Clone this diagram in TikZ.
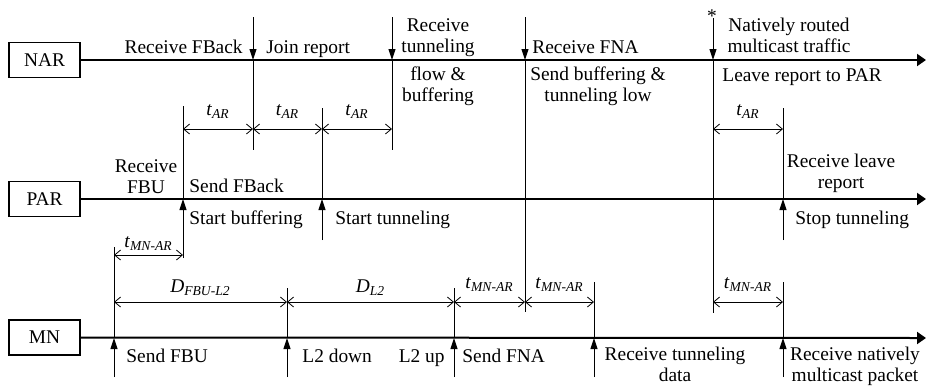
\documentclass[tikz,border=0pt]{standalone}
\usepackage{fontspec}
\setmainfont{Liberation Serif}
\usetikzlibrary{arrows.meta}
\newcommand{\dimlab}[2]{\textit{#1}\textsubscript{\textit{#2}}}

\begin{document}
\begin{tikzpicture}[x=0.5pt,y=-0.5pt,
	every node/.style={font=\fontsize{9.7}{10.5}\selectfont},
	actor/.style={draw, line width=0.9pt, minimum width=35.5pt, minimum height=17.5pt, inner sep=0pt},
	tline/.style={line width=1pt, -{Triangle[length=4.5pt,width=6pt]}},
	evt/.style={line width=0.5pt, -{Triangle[length=5.5pt,width=3.5pt]}},
	vline/.style={line width=0.5pt},
	dim/.style={line width=0.4pt, <->, >={Straight Barb[length=3pt,width=5pt]}},
	dlab/.style={above, inner sep=0pt, yshift=5pt},
	lab/.style={inner sep=0pt, align=center}]
	\useasboundingbox (0,0) rectangle (927,387);
	% time lines
	\node[actor] (NAR) at (44.5,60) {NAR};
	\node[actor] (PAR) at (44.5,199) {PAR};
	\node[actor] (MN) at (44.5,337.5) {MN};
	\coordinate (nEnd) at (926,60);
	\coordinate (pEnd) at (926,199);
	\coordinate (mEnd) at (926,338);
	\draw[tline] (NAR) -- (nEnd);
	\draw[tline] (PAR) -- (pEnd);
	\draw[tline] (MN) -- (mEnd);

	% events at NAR
	\coordinate (nFBack) at (253,60);
	\coordinate (nTun) at (392,60);
	\coordinate (nFNA) at (525,60);
	\coordinate (nNat) at (713,60);
	\draw[evt] (nFBack) ++(0,-43) -- (nFBack);
	\draw[vline] (nFBack) -- ++(0,90);
	\draw[evt] (nTun) ++(0,-43) -- (nTun);
	\draw[vline] (nTun) -- ++(0,90);
	\draw[evt] (nFNA) ++(0,-43) -- (nFNA);
	\draw[vline] (nFNA) -- ++(0,252);
	\draw[evt] (nNat) ++(0,-42) -- (nNat);
	\draw[vline] (nNat) -- ++(0,253);

	% events at PAR
	\coordinate (pFBU) at (183,199);
	\coordinate (pTun) at (322,199);
	\coordinate (pLeave) at (783,199);
	\draw[evt] (pFBU) ++(0,59) -- (pFBU);
	\draw[vline] (pFBU) -- ++(0,-93);
	\draw[evt] (pTun) ++(0,41) -- (pTun);
	\draw[vline] (pTun) -- ++(0,-91);
	\draw[evt] (pLeave) ++(0,41) -- (pLeave);
	\draw[vline] (pLeave) -- ++(0,-91);

	% events at MN
	\coordinate (mFBU) at (114,338);
	\coordinate (mDown) at (287,338);
	\coordinate (mUp) at (454,338);
	\coordinate (mData) at (594,338);
	\coordinate (mPkt) at (783,338);
	\draw[evt] (mFBU) ++(0,39) -- (mFBU);
	\draw[vline] (mFBU) -- ++(0,-91);
	\draw[evt] (mDown) ++(0,39) -- (mDown);
	\draw[vline] (mDown) -- ++(0,-50);
	\draw[evt] (mUp) ++(0,39) -- (mUp);
	\draw[vline] (mUp) -- ++(0,-50);
	\draw[evt] (mData) ++(0,39) -- (mData);
	\draw[vline] (mData) -- ++(0,-56);
	\draw[evt] (mPkt) ++(0,39) -- (mPkt);
	\draw[vline] (mPkt) -- ++(0,-56);

	% delays
	\coordinate (dA) at (0,129);
	\coordinate (dB) at (0,255);
	\coordinate (dC) at (0,302);
	\draw[dim] (pFBU |- dA) -- node[dlab] {\dimlab{t}{AR}} (nFBack |- dA);
	\draw[dim] (nFBack |- dA) -- node[dlab] {\dimlab{t}{AR}} (pTun |- dA);
	\draw[dim] (pTun |- dA) -- node[dlab] {\dimlab{t}{AR}} (nTun |- dA);
	\draw[dim] (nNat |- dA) -- node[dlab] {\dimlab{t}{AR}} (pLeave |- dA);
	\draw[dim] (mFBU |- dB) -- node[dlab, yshift=-3pt] {\dimlab{t}{MN-AR}} (pFBU |- dB);
	\draw[dim] (mFBU |- dC) -- node[dlab, yshift=-2pt] {\dimlab{D}{FBU-L2}} (mDown |- dC);
	\draw[dim] (mDown |- dC) -- node[dlab, yshift=-2pt] {\dimlab{D}{L2}} (mUp |- dC);
	\draw[dim] (mUp |- dC) -- node[dlab] {\dimlab{t}{MN-AR}} (nFNA |- dC);
	\draw[dim] (nFNA |- dC) -- node[dlab] {\dimlab{t}{MN-AR}} (mData |- dC);
	\draw[dim] (nNat |- dC) -- node[dlab] {\dimlab{t}{MN-AR}} (mPkt |- dC);

	% NAR labels
	\node[lab, anchor=base east] (rfback) at (243,53) {Receive FBack};
	\node[lab, anchor=base west] (join) at (266,53) {Join report};
	\node[lab, anchor=south] (rtun) at (438,57) {Receive\\tunneling};
	\node[lab, anchor=north] (flow) at (438,66) {flow \&\\buffering};
	\node[lab, anchor=base west] (rfna) at (532,53) {Receive FNA};
	\node[lab, anchor=north] (sbuf) at (598,66) {Send buffering \&\\tunneling low};
	\node[lab, anchor=base] (star) at (712,22) {*};
	\node[lab, anchor=south] (natv) at (789,53) {Natively routed\\multicast traffic};
	\node[lab, anchor=north west] (leave) at (722,68) {Leave report to PAR};

	% PAR labels
	\node[lab, anchor=south] (rfbu) at (146,194) {Receive\\FBU};
	\node[lab, anchor=base west] (sfback) at (189,192) {Send FBack};
	\node[lab, anchor=north west] (sbuffer) at (189,210) {Start buffering};
	\node[lab, anchor=north west] (stun) at (335,211) {Start tunneling};
	\node[lab, anchor=south] (rleave) at (841,193) {Receive leave\\report};
	\node[lab, anchor=north west] (stop) at (795,211) {Stop tunneling};

	% MN labels
	\node[lab, anchor=north west] (sfbu) at (126,349) {Send FBU};
	\node[lab, anchor=north west] (down) at (302,349) {L2 down};
	\node[lab, anchor=north east] (up) at (445,349) {L2 up};
	\node[lab, anchor=north west] (sfna) at (462,349) {Send FNA};
	\node[lab, anchor=north] (rdata) at (675,347) {Receive tunneling\\data};
	\node[lab, anchor=north] (rpkt) at (855,347) {Receive natively\\multicast packet};
\end{tikzpicture}
\end{document}
